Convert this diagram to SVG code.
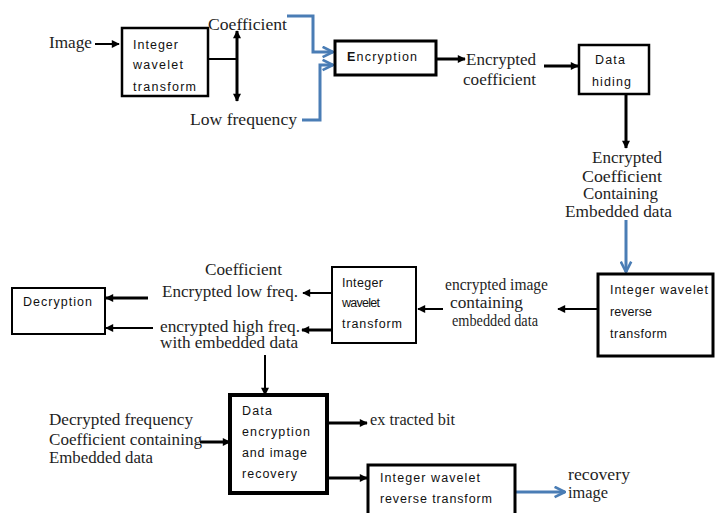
<svg xmlns="http://www.w3.org/2000/svg" width="715" height="513" viewBox="0 0 715 513">
<defs>
<style>
.s{font-family:"Liberation Serif","Times New Roman",serif;font-size:16px;fill:#1e1e1e}
.b{font-family:"Liberation Sans",Arial,sans-serif;font-size:12.5px;fill:#111}
.box{fill:#fff;stroke:#000}
.ln{fill:none;stroke:#000;stroke-width:2}
.tk{fill:none;stroke:#000;stroke-width:3}
.bl{fill:none;stroke:#4a7db5;stroke-width:3}
</style>
<marker id="ah" viewBox="0 0 10 10" refX="9" refY="5" markerWidth="9" markerHeight="8" markerUnits="userSpaceOnUse" orient="auto-start-reverse"><path d="M0,0 L10,5 L0,10 z" fill="#000"/></marker>
<marker id="bh" viewBox="0 0 10 10" refX="9" refY="5" markerWidth="13" markerHeight="13" markerUnits="userSpaceOnUse" orient="auto"><path d="M1,1 L9,5 L1,9" fill="none" stroke="#4a7db5" stroke-width="2"/></marker>
</defs>
<rect width="715" height="513" fill="#fff"/>

<g id="connectors">
<line class="ln" x1="95" y1="44" x2="119" y2="44" marker-end="url(#ah)"/>
<line class="ln" x1="208" y1="59" x2="237" y2="59"/>
<line class="tk" x1="237" y1="31" x2="237" y2="101" marker-start="url(#ah)" marker-end="url(#ah)"/>
<polyline class="bl" points="287,16 313,16 313,52 333,52" marker-end="url(#bh)"/>
<polyline class="bl" points="302,120 320,120 320,65 333,65" marker-end="url(#bh)"/>
<line class="tk" x1="436" y1="59" x2="465" y2="59" marker-end="url(#ah)"/>
<line class="tk" x1="544" y1="66" x2="578" y2="66" marker-end="url(#ah)"/>
<line class="tk" x1="626" y1="94" x2="626" y2="148" marker-end="url(#ah)"/>
<line class="bl" x1="626" y1="220" x2="626" y2="272" marker-end="url(#bh)"/>
<line class="ln" x1="597" y1="309" x2="558" y2="309" marker-end="url(#ah)"/>
<line class="ln" x1="443" y1="309" x2="418" y2="309" marker-end="url(#ah)"/>
<line class="ln" x1="332" y1="293" x2="303" y2="293" marker-end="url(#ah)"/>
<line class="tk" x1="332" y1="330" x2="302" y2="330" marker-end="url(#ah)"/>
<line class="tk" x1="148" y1="298" x2="106" y2="298" marker-end="url(#ah)"/>
<line class="ln" x1="153" y1="328" x2="106" y2="328" marker-end="url(#ah)"/>
<line class="ln" x1="265" y1="355" x2="265" y2="395" marker-end="url(#ah)"/>
<line class="tk" x1="200" y1="442" x2="230" y2="442" marker-end="url(#ah)"/>
<line class="tk" x1="327" y1="423" x2="367" y2="423" marker-end="url(#ah)"/>
<line class="tk" x1="327" y1="478" x2="367" y2="478" marker-end="url(#ah)"/>
<line class="bl" x1="515" y1="492" x2="565" y2="492" marker-end="url(#bh)"/>
</g>

<g id="image-label"><text class="s" x="49" y="48" textLength="43" lengthAdjust="spacingAndGlyphs">Image</text></g>

<g id="iwt1">
<rect class="box" x="122" y="28" width="86" height="68" stroke-width="2.5"/>
<text class="b" x="133" y="49" textLength="45">Integer</text>
<text class="b" x="133" y="69" textLength="50">wavelet</text>
<text class="b" x="133" y="91" textLength="63">transform</text>
</g>

<g id="coef-label"><text class="s" x="208" y="30" textLength="79" lengthAdjust="spacingAndGlyphs">Coefficient</text></g>
<g id="lowfreq-label"><text class="s" x="190" y="125" textLength="107" lengthAdjust="spacingAndGlyphs">Low frequency</text></g>

<g id="encryption">
<rect class="box" x="335" y="41" width="101" height="34" stroke-width="3"/>
<text class="b" x="347" y="61" textLength="70"><tspan font-weight="bold">E</tspan>ncryption</text>
</g>

<g id="enc-coef-label">
<text class="s" x="466" y="65" textLength="70" lengthAdjust="spacingAndGlyphs">Encrypted</text>
<text class="s" x="463" y="85" textLength="73" lengthAdjust="spacingAndGlyphs">coefficient</text>
</g>

<g id="datahiding">
<rect class="box" x="579" y="45" width="70" height="49" stroke-width="2.5"/>
<text class="b" x="595" y="64" textLength="30">Data</text>
<text class="b" x="592" y="86" textLength="39">hiding</text>
</g>

<g id="enc-coef-embedded-label">
<text class="s" x="592" y="163" textLength="70" lengthAdjust="spacingAndGlyphs">Encrypted</text>
<text class="s" x="582" y="182" textLength="80" lengthAdjust="spacingAndGlyphs">Coefficient</text>
<text class="s" x="583" y="199" textLength="75" lengthAdjust="spacingAndGlyphs">Containing</text>
<text class="s" x="565" y="217" textLength="107" lengthAdjust="spacingAndGlyphs">Embedded data</text>
</g>

<g id="iwrt1">
<rect class="box" x="598" y="274" width="115" height="82" stroke-width="3"/>
<text class="b" x="610" y="294" textLength="98" font-size="13">Integer wavelet</text>
<text class="b" x="610" y="316" textLength="42" font-size="13">reverse</text>
<text class="b" x="610" y="338" textLength="57" font-size="13">transform</text>
</g>

<g id="enc-image-label">
<text class="s" x="445" y="290" textLength="103" lengthAdjust="spacingAndGlyphs">encrypted image</text>
<text class="s" x="450" y="308" textLength="73" lengthAdjust="spacingAndGlyphs">containing</text>
<text class="s" x="452" y="326" textLength="86" lengthAdjust="spacingAndGlyphs">embedded data</text>
</g>

<g id="iwt2">
<rect class="box" x="332" y="267" width="84" height="76" stroke-width="2"/>
<text class="b" x="342" y="287" textLength="41">Integer</text>
<text class="b" x="342" y="307" textLength="38">wavelet</text>
<text class="b" x="342" y="328" textLength="60">transform</text>
</g>

<g id="lowfreq2-label">
<text class="s" x="205" y="275" textLength="77" lengthAdjust="spacingAndGlyphs">Coefficient</text>
<text class="s" x="162" y="297" textLength="136" lengthAdjust="spacingAndGlyphs">Encrypted low freq.</text>
</g>
<g id="highfreq-label">
<text class="s" x="160" y="332" textLength="140" lengthAdjust="spacingAndGlyphs">encrypted high freq.</text>
<text class="s" x="160" y="348" textLength="138" lengthAdjust="spacingAndGlyphs">with embedded data</text>
</g>

<g id="decryption">
<rect class="box" x="12" y="288" width="93" height="46" stroke-width="2"/>
<text class="b" x="23" y="306" textLength="69">Decryption</text>
</g>

<g id="decrypted-label">
<text class="s" x="49" y="425" textLength="144" lengthAdjust="spacingAndGlyphs">Decrypted frequency</text>
<text class="s" x="49" y="445" textLength="153" lengthAdjust="spacingAndGlyphs">Coefficient containing</text>
<text class="s" x="49" y="463" textLength="104" lengthAdjust="spacingAndGlyphs">Embedded data</text>
</g>

<g id="recovery-box">
<rect class="box" x="230" y="395" width="97" height="98" stroke-width="4"/>
<text class="b" x="242" y="415" textLength="30" font-size="13">Data</text>
<text class="b" x="242" y="436" textLength="68" font-size="13">encryption</text>
<text class="b" x="242" y="457" textLength="65" font-size="13">and image</text>
<text class="b" x="242" y="478" textLength="55" font-size="13">recovery</text>
</g>

<g id="extracted-label"><text class="s" x="370" y="425" textLength="85" lengthAdjust="spacingAndGlyphs">ex tracted bit</text></g>

<g id="iwrt2">
<rect class="box" x="368" y="465" width="147" height="60" stroke-width="3"/>
<text class="b" x="380" y="482" textLength="100">Integer wavelet</text>
<text class="b" x="380" y="503" textLength="112">reverse transform</text>
</g>

<g id="recovery-label">
<text class="s" x="568" y="480" textLength="62" lengthAdjust="spacingAndGlyphs">recovery</text>
<text class="s" x="568" y="498" textLength="40" lengthAdjust="spacingAndGlyphs">image</text>
</g>
</svg>
